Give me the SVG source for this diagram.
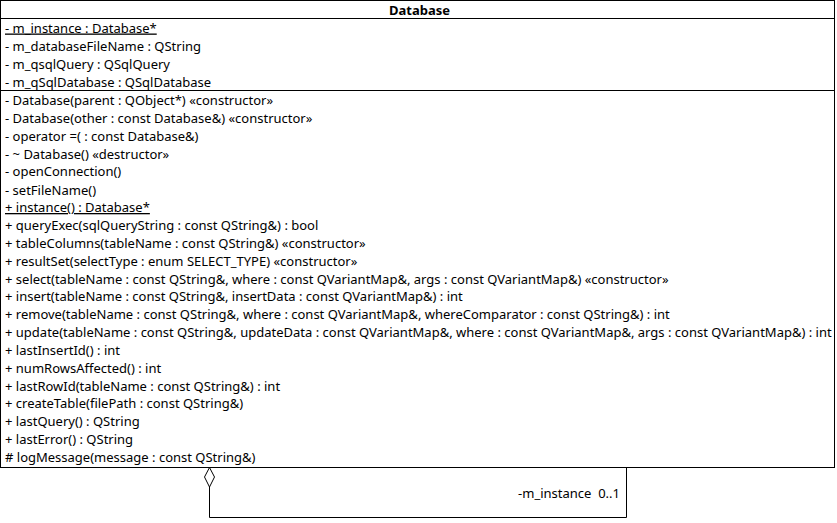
<svg xmlns="http://www.w3.org/2000/svg" width="837" height="523" viewBox="0 0 837 523">
<style>
text{font-family:"Noto Sans","Open Sans",sans-serif;font-size:13px;fill:#000}
.b{font-weight:bold;text-anchor:middle}
.u{text-decoration:underline}
.ln{stroke:#000;stroke-width:1;fill:none}
</style>
<rect x="0" y="0" width="837" height="523" fill="#fff"/>
<g id="node-database">
<rect x="0.5" y="0.5" width="834" height="467" fill="#fff" stroke="#000"/>
<line class="ln" x1="0.5" y1="18.5" x2="834.5" y2="18.5"/>
<line class="ln" x1="0.5" y1="90.5" x2="834.5" y2="90.5"/>
<text class="b" x="419.5" y="15">Database</text>
<text class="u" x="5" y="32.5">- m_instance : Database*</text>
<text x="5" y="50.5">- m_databaseFileName : QString</text>
<text x="5" y="68.5">- m_qsqlQuery : QSqlQuery</text>
<text x="5" y="86.5">- m_qSqlDatabase : QSqlDatabase</text>
<text x="5" y="105">- Database(parent : QObject*) «constructor»</text>
<text x="5" y="122.85">- Database(other : const Database&amp;) «constructor»</text>
<text x="5" y="140.7">- operator =( : const Database&amp;)</text>
<text x="5" y="158.55">- ~ Database() «destructor»</text>
<text x="5" y="176.4">- openConnection()</text>
<text x="5" y="194.5">- setFileName()</text>
<text class="u" x="5" y="212">+ instance() : Database*</text>
<text x="5" y="229.7">+ queryExec(sqlQueryString : const QString&amp;) : bool</text>
<text x="5" y="247.8">+ tableColumns(tableName : const QString&amp;) «constructor»</text>
<text x="5" y="265.65">+ resultSet(selectType : enum SELECT_TYPE) «constructor»</text>
<text x="5" y="283.5">+ select(tableName : const QString&amp;, where : const QVariantMap&amp;, args : const QVariantMap&amp;) «constructor»</text>
<text x="5" y="301.35">+ insert(tableName : const QString&amp;, insertData : const QVariantMap&amp;) : int</text>
<text x="5" y="319.2">+ remove(tableName : const QString&amp;, where : const QVariantMap&amp;, whereComparator : const QString&amp;) : int</text>
<text x="5" y="337.05">+ update(tableName : const QString&amp;, updateData : const QVariantMap&amp;, where : const QVariantMap&amp;, args : const QVariantMap&amp;) : int</text>
<text x="5" y="354.9">+ lastInsertId() : int</text>
<text x="5" y="372.75">+ numRowsAffected() : int</text>
<text x="5" y="390.6">+ lastRowId(tableName : const QString&amp;) : int</text>
<text x="5" y="408.45">+ createTable(filePath : const QString&amp;)</text>
<text x="5" y="426.3">+ lastQuery() : QString</text>
<text x="5" y="444.15">+ lastError() : QString</text>
<text x="5" y="462"># logMessage(message : const QString&amp;)</text>
</g>
<g id="connectors">
<polyline class="ln" points="209.5,487 209.5,517.5 626.5,517.5 626.5,467.5"/>
<polygon points="209.5,467.5 214.5,477 209.5,487 204.5,477" fill="#fff" stroke="#000"/>
<text x="620" y="498" text-anchor="end" xml:space="preserve">-m_instance  0..1</text>
</g>
</svg>
